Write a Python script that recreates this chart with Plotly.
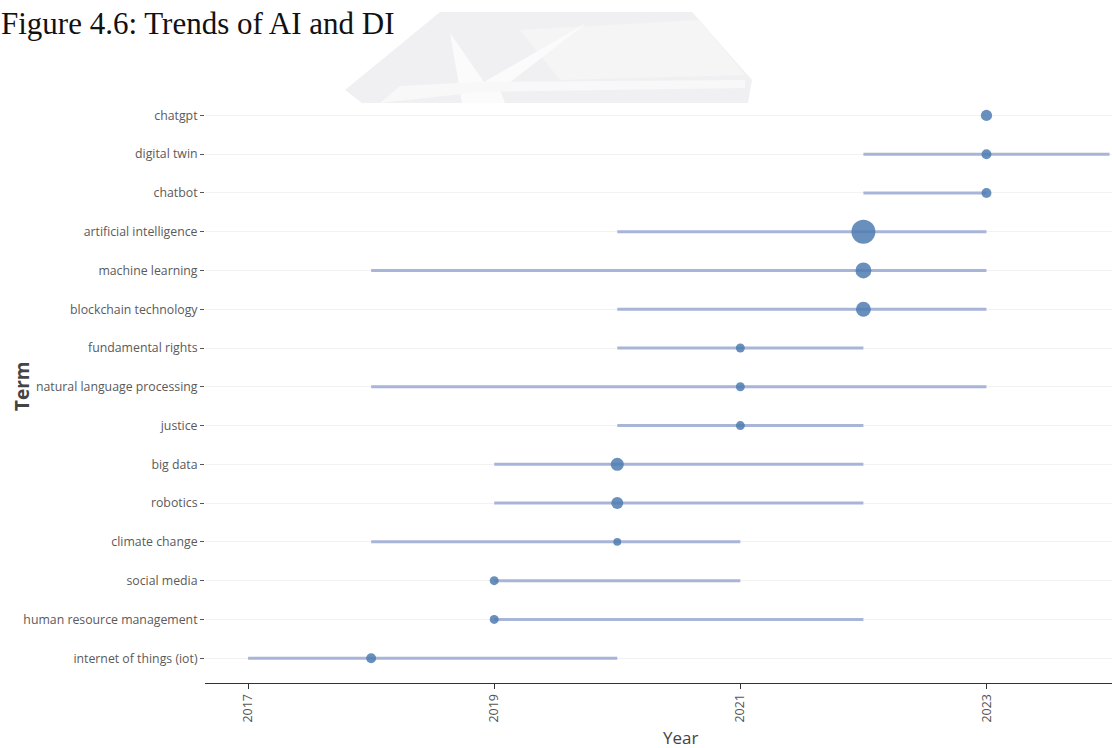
import plotly.graph_objects as go

# ---- data ----
terms = ["internet of things (iot)", "human resource management", "social media",
         "climate change", "robotics", "big data", "justice",
         "natural language processing", "fundamental rights", "blockchain technology",
         "machine learning", "artificial intelligence", "chatbot", "digital twin", "chatgpt"]
year_q1 = [2017, 2019, 2019, 2018, 2019, 2019, 2020, 2018, 2020, 2020, 2018, 2020, 2022, 2022, 2023]
year_med = [2018, 2019, 2019, 2020, 2020, 2020, 2021, 2021, 2021, 2022, 2022, 2022, 2023, 2023, 2023]
year_q3 = [2020, 2022, 2021, 2021, 2022, 2022, 2022, 2023, 2022, 2023, 2023, 2023, 2023, 2024, 2023]
freq = [11, 9, 9, 7, 16, 19, 9, 9, 9, 25, 28, 64, 11, 11, 14]
x_ticks = [2017, 2019, 2021, 2023]

# ---- pixel helpers (plot area) ----
L, R, T, B = 205, 1112, 96, 683
W, H = 1112, 748
def px(x): return (x - L) / (R - L)
def py(y): return (B - y) / (B - T)

lx, ly = [], []
for t, a, b in zip(terms, year_q1, year_q3):
    lx += [a, b, None]
    ly += [t, t, None]

fig = go.Figure()
fig.add_trace(go.Scatter(x=lx, y=ly, mode="lines",
                         line=dict(color="#a9b5d8", width=3),
                         hoverinfo="skip", showlegend=False))
fig.add_trace(go.Scatter(x=year_med, y=terms, mode="markers",
                         marker=dict(size=freq, sizemode="area", sizeref=2/9,
                                     color="#4f7cb1", opacity=0.85,
                                     line=dict(width=0)),
                         showlegend=False))

# watermark (document background graphic)
shapes = [
    dict(type="path", xref="paper", yref="paper", layer="below",
         path=f"M {px(440)},{py(12)} L {px(692)},{py(12)} L {px(752)},{py(80)} "
              f"L {px(748)},{py(103)} L {px(362)},{py(103)} L {px(345)},{py(90)} Z",
         fillcolor="#f0f0f2", line=dict(width=0)),
    dict(type="path", xref="paper", yref="paper", layer="below",
         path=f"M {px(520)},{py(30)} L {px(700)},{py(20)} L {px(745)},{py(75)} "
              f"L {px(560)},{py(80)} Z",
         fillcolor="#f5f5f6", line=dict(width=0)),
    dict(type="path", xref="paper", yref="paper", layer="below",
         path=f"M {px(462)},{py(103)} L {px(450)},{py(33)} L {px(484)},{py(82)} "
              f"L {px(588)},{py(22)} L {px(500)},{py(90)} L {px(505)},{py(103)} Z",
         fillcolor="#fbfbfb", line=dict(width=0)),
    dict(type="path", xref="paper", yref="paper", layer="below",
         path=f"M {px(400)},{py(86)} L {px(480)},{py(82)} L {px(745)},{py(80)} "
              f"L {px(745)},{py(88)} L {px(480)},{py(92)} L {px(380)},{py(103)} Z",
         fillcolor="#f8f8f9", line=dict(width=0)),
    dict(type="rect", xref="paper", yref="paper", layer="below",
         x0=px(200), x1=px(1112), y0=py(103), y1=py(690),
         fillcolor="white", line=dict(width=0)),
]

annotations = [
    dict(text="Figure 4.6: Trends of AI and DI", xref="paper", yref="paper",
         x=px(-1), y=py(23), xanchor="left", yanchor="middle", showarrow=False,
         font=dict(family="Liberation Serif", size=31, color="#111111")),
    dict(text="<b>Term</b>", xref="paper", yref="paper", x=px(22), y=py(386),
         textangle=-90, xanchor="center", yanchor="middle", showarrow=False,
         font=dict(family="Open Sans", size=19, color="#444444")),
    dict(text="Year", xref="paper", yref="paper", x=px(680), y=py(737),
         xanchor="center", yanchor="middle", showarrow=False,
         font=dict(family="Open Sans", size=17, color="#444444")),
]

fig.update_layout(
    width=W, height=H,
    margin=dict(l=L, r=W - R, t=T, b=H - B),
    paper_bgcolor="white", plot_bgcolor="rgba(0,0,0,0)",
    shapes=shapes, annotations=annotations,
    font=dict(family="Open Sans", color="#555555"),
    xaxis=dict(range=[2016.65, 2024.02], tickvals=x_ticks,
               ticktext=[str(v) for v in x_ticks], tickangle=-90,
               showgrid=False, zeroline=False, showline=True,
               linecolor="#333333", linewidth=1, ticks="outside",
               ticklen=5, tickcolor="#333333",
               tickfont=dict(size=12.5, color="#555555")),
    yaxis=dict(categoryorder="array", categoryarray=terms, type="category",
               range=[-0.64, 14.5], showgrid=True, gridcolor="#f2f2f2",
               gridwidth=1, zeroline=False, showline=False, ticks="outside",
               ticklen=4, tickcolor="#555555",
               tickfont=dict(size=12.3, color="#5a5a5a")),
)

fig.write_html("out.html", config={"displayModeBar": False},
               post_script="document.body.style.margin='0';")
